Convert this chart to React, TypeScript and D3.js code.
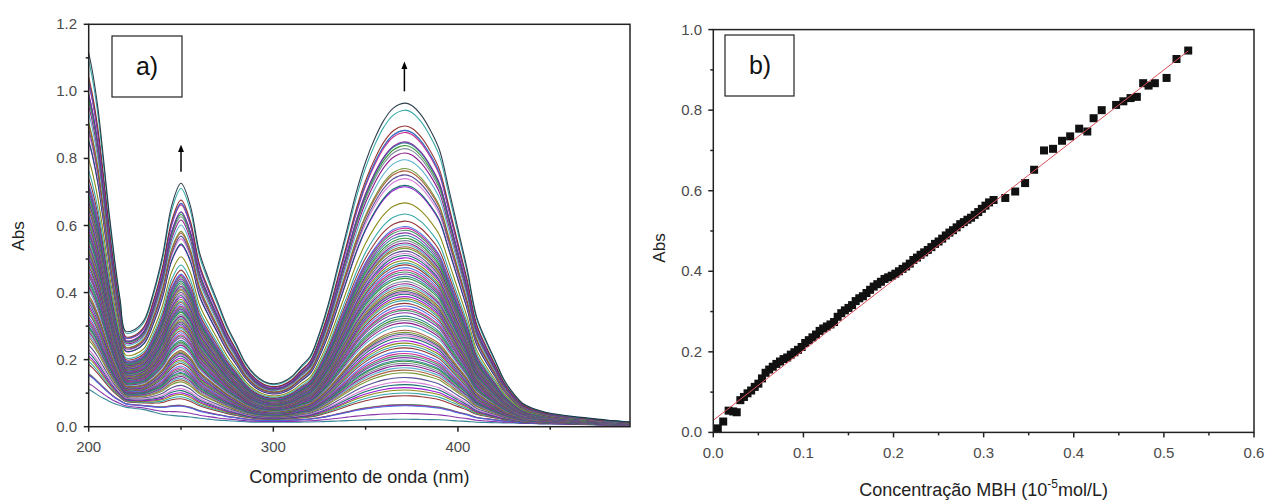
import React from "react";
import * as d3 from "d3";

// ---------- Panel a data ----------
const wavelengths = [200,202,205,208,211,214,217,220,225,230,235,240,245,250,255,260,265,270,275,280,285,290,295,300,305,310,315,320,325,330,335,340,345,350,355,360,365,371,375,380,385,390,395,400,405,410,415,420,425,430,435,440,445,450,460,470,480,493];
const topSpectrum = [1.115,1.06,0.95,0.80,0.64,0.50,0.38,0.285,0.29,0.318,0.40,0.51,0.66,0.726,0.66,0.52,0.44,0.37,0.30,0.245,0.19,0.155,0.135,0.128,0.133,0.15,0.18,0.21,0.28,0.37,0.48,0.59,0.70,0.79,0.86,0.915,0.95,0.965,0.958,0.93,0.885,0.825,0.71,0.59,0.47,0.33,0.26,0.20,0.14,0.10,0.07,0.056,0.047,0.04,0.032,0.026,0.02,0.014];
const baseSpectrum = [0.10,0.095,0.085,0.077,0.07,0.064,0.06,0.056,0.052,0.048,0.04,0.032,0.027,0.024,0.022,0.02,0.018,0.016,0.015,0.014,0.013,0.012,0.012,0.012,0.012,0.012,0.012,0.012,0.012,0.012,0.012,0.012,0.012,0.012,0.012,0.012,0.012,0.012,0.012,0.012,0.012,0.012,0.012,0.011,0.011,0.01,0.01,0.01,0.01,0.01,0.009,0.009,0.008,0.008,0.007,0.006,0.005,0.005];
const xTicksA = [200, 300, 400];
const yTicksA = [0.0, 0.2, 0.4, 0.6, 0.8, 1.0, 1.2];
const lineColors = ["#1f7a8c","#7b1fa2","#2e8b57","#c71585","#4169e1","#8b2020","#20a0a0","#808000","#9400d3","#006060","#d070d0","#483d8b","#6b8e23","#a0522d","#48a9c5","#800080","#708090","#228b22"];

// ---------- Panel b data ----------
const concB = [0.005,0.011,0.017,0.022,0.026,0.030,0.034,0.038,0.042,0.046,0.050,0.054,0.058,0.062,0.066,0.070,0.074,0.078,0.082,0.086,0.090,0.094,0.098,0.102,0.106,0.110,0.114,0.118,0.122,0.126,0.130,0.134,0.138,0.142,0.146,0.150,0.154,0.158,0.162,0.166,0.170,0.174,0.178,0.182,0.186,0.190,0.194,0.198,0.202,0.206,0.210,0.214,0.218,0.222,0.226,0.230,0.234,0.238,0.242,0.246,0.250,0.254,0.258,0.262,0.266,0.270,0.274,0.278,0.282,0.286,0.290,0.294,0.298,0.302,0.306,0.311,0.324,0.335,0.346,0.356,0.367,0.377,0.387,0.396,0.406,0.415,0.422,0.431,0.447,0.455,0.463,0.470,0.477,0.483,0.490,0.503,0.514,0.527];
const absB = [0.010,0.027,0.054,0.052,0.050,0.080,0.088,0.097,0.104,0.113,0.121,0.134,0.148,0.156,0.163,0.170,0.176,0.182,0.186,0.193,0.199,0.205,0.212,0.222,0.229,0.236,0.243,0.252,0.258,0.263,0.268,0.274,0.287,0.296,0.303,0.309,0.316,0.326,0.333,0.338,0.346,0.354,0.362,0.368,0.374,0.381,0.385,0.389,0.394,0.400,0.406,0.412,0.419,0.428,0.434,0.441,0.447,0.453,0.460,0.468,0.474,0.481,0.489,0.496,0.502,0.509,0.517,0.522,0.528,0.533,0.540,0.547,0.555,0.563,0.571,0.577,0.582,0.598,0.619,0.652,0.700,0.704,0.724,0.735,0.754,0.747,0.780,0.800,0.813,0.822,0.830,0.833,0.867,0.861,0.867,0.880,0.927,0.948];
const fitIntercept = 0.03;
const fitSlope = 1.74;
const fitRange = [0, 0.527];
const xTicksB = [0.0, 0.1, 0.2, 0.3, 0.4, 0.5, 0.6];
const yTicksB = [0.0, 0.2, 0.4, 0.6, 0.8, 1.0];

const FONT = "'Liberation Sans', Arial, sans-serif";
const TICK_COLOR = "#4a4a4a";

export default function App() {
  const xA = d3.scaleLinear().domain([200, 493.2]).range([88.7, 630]);
  const yA = d3.scaleLinear().domain([0, 1.2]).range([426.7, 24.3]);
  const xB = d3.scaleLinear().domain([0, 0.6]).range([713.3, 1254]);
  const yB = d3.scaleLinear().domain([0, 1]).range([432.4, 29.6]);

  const maxAbs = d3.max(absB) as number;
  const spectra = absB.map((a) => {
    const s = a / maxAbs;
    return wavelengths.map((w, i) => [w, s * topSpectrum[i] + (1 - s) * baseSpectrum[i]] as [number, number]);
  });
  const lineA = d3.line<[number, number]>().x((d) => xA(d[0])).y((d) => yA(d[1])).curve(d3.curveCatmullRom.alpha(0.5));

  const minorXA = d3.range(250, 493, 100);
  const minorYA = d3.range(0.1, 1.2, 0.2);
  const minorXB = d3.range(0.05, 0.6, 0.1);
  const minorYB = d3.range(0.1, 1.0, 0.2);

  const sq = 8;

  return (
    <svg width={1267} height={501} style={{ display: "block", position: "absolute", left: 0, top: 0 }}>
      <rect x={0} y={0} width={1267} height={501} fill="#fff" />
      <defs>
        <clipPath id="clipA">
          <rect x={xA(200)} y={yA(1.2)} width={xA(493.2) - xA(200)} height={yA(0) - yA(1.2)} />
        </clipPath>
        <marker id="arrowHead" viewBox="0 0 10 10" refX="5" refY="5" markerWidth="5" markerHeight="6" orient="auto">
          <path d="M0,1 L10,5 L0,9 z" fill="#000" />
        </marker>
      </defs>
      {/* ---------------- Panel a ---------------- */}
      <g clipPath="url(#clipA)">
        {spectra.map((pts, i) => (
          <path key={i} d={lineA(pts) || ""} fill="none" stroke={i === spectra.length - 1 ? "#1b2a3a" : lineColors[i % lineColors.length]} strokeWidth={1.1} strokeOpacity={0.9} />
        ))}
      </g>
      <rect x={xA(200)} y={yA(1.2)} width={xA(493.2) - xA(200)} height={yA(0) - yA(1.2)} fill="none" stroke="#222" strokeWidth={1.5} />
      {xTicksA.map((t) => (
        <g key={"xa" + t}>
          <line x1={xA(t)} x2={xA(t)} y1={yA(0)} y2={yA(0) + 5} stroke="#222" strokeWidth={1.5} />
          <text x={xA(t)} y={452} textAnchor="middle" fontFamily={FONT} fontSize={15} fill={TICK_COLOR}>{t}</text>
        </g>
      ))}
      {minorXA.map((t) => (
        <line key={"mxa" + t} x1={xA(t)} x2={xA(t)} y1={yA(0)} y2={yA(0) + 3} stroke="#222" strokeWidth={1.5} />
      ))}
      {yTicksA.map((t) => (
        <g key={"ya" + t}>
          <line x1={xA(200) - 5} x2={xA(200)} y1={yA(t)} y2={yA(t)} stroke="#222" strokeWidth={1.5} />
          <text x={77} y={yA(t) + 5} textAnchor="end" fontFamily={FONT} fontSize={15} fill={TICK_COLOR}>{t.toFixed(1)}</text>
        </g>
      ))}
      {minorYA.map((t) => (
        <line key={"mya" + t} x1={xA(200) - 3} x2={xA(200)} y1={yA(t)} y2={yA(t)} stroke="#222" strokeWidth={1.5} />
      ))}
      <text x={(xA(200) + xA(493.2)) / 2} y={483} textAnchor="middle" fontFamily={FONT} fontSize={18} fill="#222">Comprimento de onda (nm)</text>
      <text transform="translate(24,236) rotate(-90)" textAnchor="middle" fontFamily={FONT} fontSize={17} fill="#222">Abs</text>
      <rect x={112} y={36} width={70} height={61} fill="#fff" stroke="#222" strokeWidth={1.2} />
      <text x={147} y={75} textAnchor="middle" fontFamily={FONT} fontSize={25} fill="#111">a)</text>
      <line x1={xA(250)} x2={xA(250)} y1={yA(0.76)} y2={yA(0.83)} stroke="#000" strokeWidth={1.5} markerEnd="url(#arrowHead)" />
      <line x1={xA(371)} x2={xA(371)} y1={yA(1.0)} y2={yA(1.078)} stroke="#000" strokeWidth={1.5} markerEnd="url(#arrowHead)" />

      {/* ---------------- Panel b ---------------- */}
      {concB.map((c, i) => (
        <rect key={"p" + i} x={xB(c) - sq / 2} y={yB(absB[i]) - sq / 2} width={sq} height={sq} fill="#111" />
      ))}
      <line x1={xB(fitRange[0])} y1={yB(fitIntercept + fitSlope * fitRange[0])} x2={xB(fitRange[1])} y2={yB(fitIntercept + fitSlope * fitRange[1])} stroke="#d9505a" strokeWidth={1} />
      <rect x={xB(0)} y={yB(1)} width={xB(0.6) - xB(0)} height={yB(0) - yB(1)} fill="none" stroke="#222" strokeWidth={1.5} />
      {xTicksB.map((t) => (
        <g key={"xb" + t}>
          <line x1={xB(t)} x2={xB(t)} y1={yB(0)} y2={yB(0) + 5} stroke="#222" strokeWidth={1.5} />
          <text x={xB(t)} y={458} textAnchor="middle" fontFamily={FONT} fontSize={15} fill={TICK_COLOR}>{t.toFixed(1)}</text>
        </g>
      ))}
      {minorXB.map((t) => (
        <line key={"mxb" + t} x1={xB(t)} x2={xB(t)} y1={yB(0)} y2={yB(0) + 3} stroke="#222" strokeWidth={1.5} />
      ))}
      {yTicksB.map((t) => (
        <g key={"yb" + t}>
          <line x1={xB(0) - 5} x2={xB(0)} y1={yB(t)} y2={yB(t)} stroke="#222" strokeWidth={1.5} />
          <text x={702} y={yB(t) + 5} textAnchor="end" fontFamily={FONT} fontSize={15} fill={TICK_COLOR}>{t.toFixed(1)}</text>
        </g>
      ))}
      {minorYB.map((t) => (
        <line key={"myb" + t} x1={xB(0) - 3} x2={xB(0)} y1={yB(t)} y2={yB(t)} stroke="#222" strokeWidth={1.5} />
      ))}
      <text x={(xB(0) + xB(0.6)) / 2} y={496} textAnchor="middle" fontFamily={FONT} fontSize={18} fill="#222">
        Concentração MBH (10<tspan dy={-8} fontSize={12}>-5</tspan><tspan dy={8}>mol/L)</tspan>
      </text>
      <text transform="translate(665,248) rotate(-90)" textAnchor="middle" fontFamily={FONT} fontSize={17} fill="#222">Abs</text>
      <rect x={725} y={35} width={69} height={61} fill="#fff" stroke="#222" strokeWidth={1.2} />
      <text x={760} y={74} textAnchor="middle" fontFamily={FONT} fontSize={25} fill="#111">b)</text>
    </svg>
  );
}
